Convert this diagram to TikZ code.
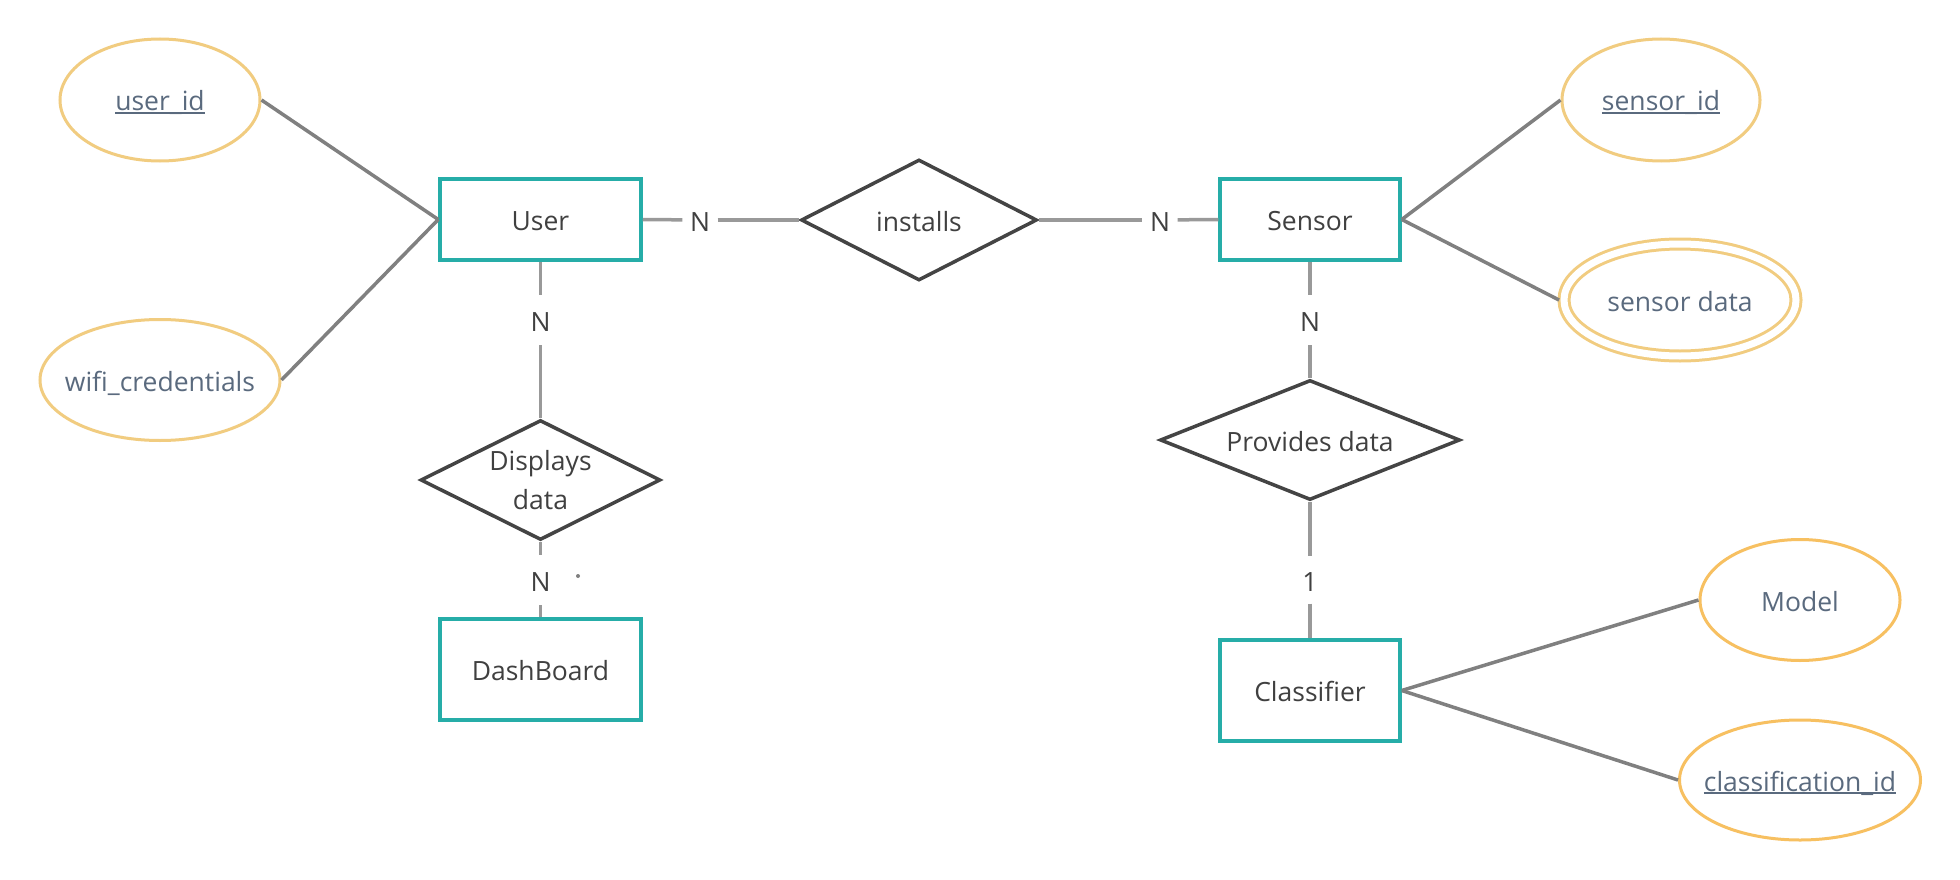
\documentclass[tikz,border=0pt]{standalone}
\usepackage{fontspec}
\setmainfont{Open Sans}
\usetikzlibrary{shapes.geometric}
\definecolor{entteal}{RGB}{38,173,168}
\definecolor{attgold}{RGB}{241,204,128}
\definecolor{attgoldb}{RGB}{247,192,97}
\definecolor{enttext}{RGB}{64,64,64}
\definecolor{atttext}{RGB}{90,106,126}
\definecolor{attline}{RGB}{128,128,128}
\definecolor{relline}{RGB}{153,153,153}
\definecolor{relborder}{RGB}{68,68,68}
\newcommand\keyul[1]{\setbox0\hbox{#1}\rlap{\color{atttext}\rule[-3pt]{\wd0}{1.8pt}}\box0}
\begin{document}
\begin{tikzpicture}[x=1pt,y=-1pt,
  font=\fontsize{26.5}{39}\selectfont,
  every node/.style={text height=28pt,text depth=6pt},
  entity/.style={draw=entteal,line width=3.5pt,fill=white,text=enttext,inner sep=0pt,rectangle},
  attrib/.style={ellipse,draw=attgold,line width=3pt,text=atttext,inner sep=0pt},
  attribb/.style={attrib,draw=attgoldb},
  relat/.style={diamond,draw=relborder,line width=3.5pt,text=enttext,inner sep=0pt,align=center},
  lbl/.style={text=enttext,inner xsep=7.5pt,inner ysep=8pt},
  aline/.style={draw=attline,line width=3.5pt},
  rline/.style={draw=relline,line width=3.5pt}]
\path[fill=white,use as bounding box] (0,0) rectangle (1960,880);

% entities
\node[entity,minimum width=201pt,minimum height=81pt] (user) at (540.5,219.5) {User};
\node[entity,minimum width=180pt,minimum height=81pt] (sensor) at (1310,219.5) {Sensor};
\node[entity,minimum width=201pt,minimum height=101pt] (dash) at (540.5,669.5) {DashBoard};
\node[entity,minimum width=180pt,minimum height=101pt] (classif) at (1310,690.5) {Classifier};

% attributes
\node[attrib,minimum width=200pt,minimum height=122pt] (userid) at (160,100) {\makebox[0pt]{\keyul{user\_id}}};
\node[attrib,minimum width=240pt,minimum height=121pt] (wifi) at (160,380) {\makebox[0pt]{wifi\_credentials}};
\node[attrib,minimum width=198pt,minimum height=122pt] (sensorid) at (1661,100) {\makebox[0pt]{\keyul{sensor\_id}}};
\node[attrib,double=white,double distance=7pt,outer sep=5pt,minimum width=232pt,minimum height=112pt] (sensordata) at (1680,300) {\makebox[0pt]{sensor data}};
\node[attribb,minimum width=200pt,minimum height=121pt] (model) at (1800,600) {\makebox[0pt]{Model}};
\node[attribb,minimum width=241pt,minimum height=120pt] (classid) at (1800,780) {\makebox[0pt]{\keyul{classification\_id}}};

% relationships
\node[relat,minimum width=236pt,minimum height=121pt] (installs) at (919,220) {installs};
\node[relat,aspect=2,text height=,text depth=,minimum width=240pt,minimum height=120pt] (displays) at (540.5,480) {Displays\\data};
\node[relat,aspect=2.5,minimum width=300pt,minimum height=120pt] (provides) at (1310,440) {Provides data};

% cardinality labels
\node[lbl] (n1) at (700,220) {N};
\node[lbl] (n2) at (1160,220) {N};
\node[lbl] (n3) at (540.5,320) {N};
\node[lbl] (n4) at (1310,320) {N};
\node[lbl,inner ysep=6.5pt] (n5) at (1310,580) {1};
\node[lbl] (n6) at (540.5,580) {N};

% attribute connectors
\draw[aline] (userid.east) -- (user.west);
\draw[aline] (wifi.east) -- (user.west);
\draw[aline] (sensor.east) -- (sensorid.west);
\draw[aline] (sensor.east) -- (sensordata.west);
\draw[aline] (classif.east) -- (model.west);
\draw[aline] (classif.east) -- (classid.west);

% relationship connectors
\draw[rline] (user.east) -- (n1);
\draw[rline] (n1) -- (installs.west);
\draw[rline] (installs.east) -- (n2);
\draw[rline] (n2) -- (sensor.west);
\draw[rline] (user.south) -- (n3);
\draw[rline] (n3) -- (displays.north);
\draw[rline] (displays.south) -- (n6);
\draw[rline] (n6) -- (dash.north);
\draw[rline] (sensor.south) -- (n4);
\draw[rline] (n4) -- (provides.north);
\draw[rline] (provides.south) -- (n5);
\draw[rline] (n5) -- (classif.north);

% stray dot
\fill[attline] (578,576) circle (2pt);
\end{tikzpicture}
\end{document}
